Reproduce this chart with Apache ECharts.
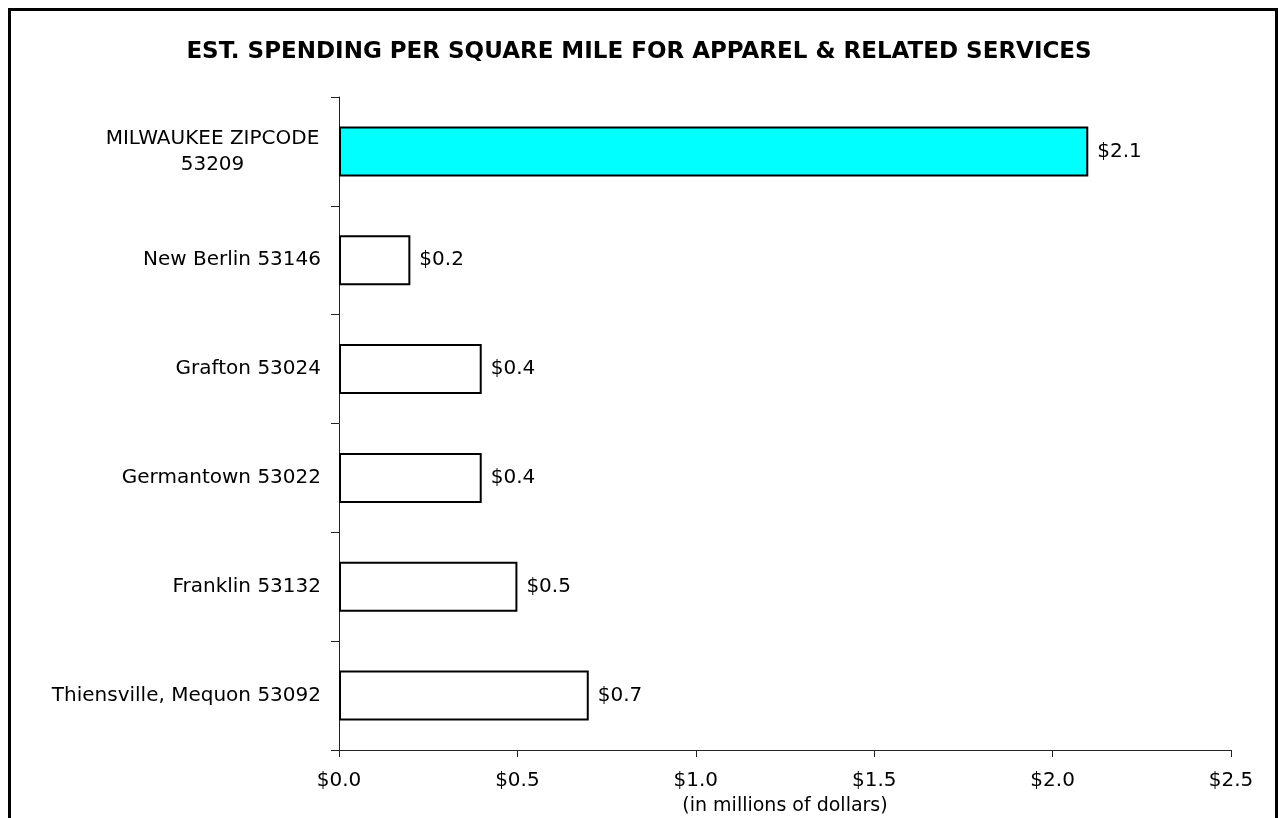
<!DOCTYPE html>
<html>
<head>
<meta charset="utf-8">
<script src="https://cdn.jsdelivr.net/npm/echarts@6/dist/echarts.min.js"></script>
<style>
  html, body { margin: 0; padding: 0; background: #fff; }
  #myChart { width: 1278px; height: 818px; }
</style>
</head>
<body>
<div id="myChart"></div>
<script>
  // data
  var areas = ['MILWAUKEE ZIPCODE\n53209', 'New Berlin 53146', 'Grafton 53024',
               'Germantown 53022', 'Franklin 53132', 'Thiensville, Mequon 53092'];
  var spending = [2.1, 0.2, 0.4, 0.4, 0.5, 0.7];
  var highlight = 0; // the cyan bar

  var fontName = 'DejaVu Sans';

  var barData = [];
  for (var i = 0; i < spending.length; i++) {
    barData.push({
      value: spending[i],
      itemStyle: { color: i === highlight ? '#00ffff' : '#ffffff' }
    });
  }

  var myChart = echarts.init(document.getElementById('myChart'));
  var option = {
    animation: false,
    backgroundColor: '#fff',
    textStyle: { fontFamily: fontName },
    title: {
      text: 'EST. SPENDING PER SQUARE MILE FOR APPAREL & RELATED SERVICES',
      left: 'center',
      top: 36,
      textStyle: { fontSize: 23, fontWeight: 'bold', color: '#000', fontFamily: fontName }
    },
    graphic: [{
      type: 'rect',
      shape: { x: 9.5, y: 9.5, width: 1267, height: 900 },
      style: { fill: null, stroke: '#000', lineWidth: 3 },
      silent: true
    }],
    grid: { left: 339, right: 47, top: 97, bottom: 68, outerBoundsMode: 'none' },
    xAxis: {
      type: 'value',
      min: 0,
      max: 2.5,
      interval: 0.5,
      name: '(in millions of dollars)',
      nameLocation: 'middle',
      nameGap: 38,
      nameTextStyle: { fontSize: 19, color: '#000', lineHeight: 20 },
      axisLine: { show: true, lineStyle: { color: '#222', width: 1 } },
      axisTick: { show: true, length: 7, lineStyle: { color: '#222' } },
      axisLabel: {
        fontSize: 20, color: '#000', margin: 21,
        formatter: function (v) { return '$' + v.toFixed(1); }
      },
      splitLine: { show: false }
    },
    yAxis: {
      type: 'category',
      data: areas,
      inverse: true,
      axisLine: { show: true, lineStyle: { color: '#222', width: 1 } },
      axisTick: { show: true, length: 8, lineStyle: { color: '#222' } },
      axisLabel: {
        fontSize: 20, color: '#000', margin: 18, align: 'right', lineHeight: 26,
        // two-line labels are centred line by line
        formatter: function (v) {
          var lines = v.split('\n');
          if (lines.length < 2) return v;
          return lines.map(function (s) { return '{c|' + s + '}'; }).join('\n');
        },
        rich: {
          c: { width: 217, align: 'center', fontSize: 20, lineHeight: 26, color: '#000' }
        }
      }
    },
    series: [{
      type: 'bar',
      data: barData,
      barWidth: 50,
      itemStyle: { borderColor: '#000', borderWidth: 2 },
      label: {
        show: true,
        position: 'right',
        distance: 9,
        fontSize: 20,
        color: '#000',
        formatter: function (p) { return '$' + p.value.toFixed(1); }
      }
    }]
  };
  myChart.setOption(option);
</script>
</body>
</html>
